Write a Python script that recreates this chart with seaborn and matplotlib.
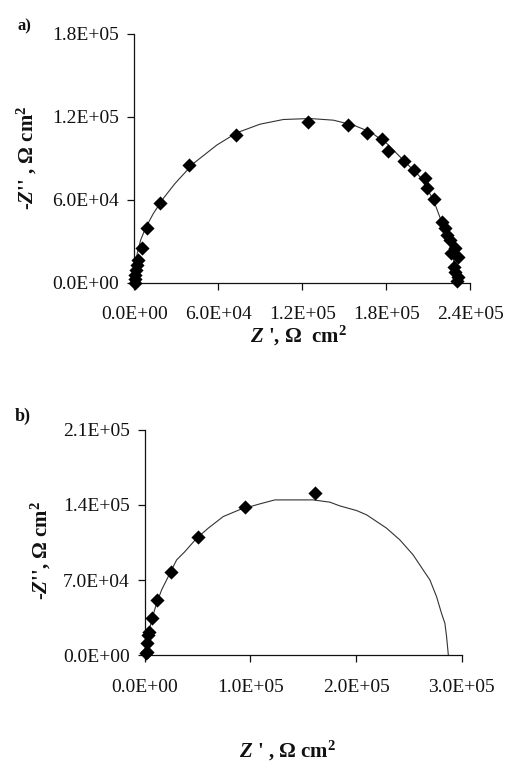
import matplotlib
matplotlib.use("Agg")
import matplotlib.pyplot as plt
import seaborn as sns
import pandas as pd

# ---------------------------------------------------------------------------
# DATA
# ---------------------------------------------------------------------------
# panel a) measured points
a_zre = [500, 500, 700, 1000, 1700, 2900, 5300, 8900, 18400, 39100, 72900,
         124400, 153000, 166100, 177300, 181100, 193000, 200200, 207800,
         209500, 214300, 219700, 221700, 223300, 225700, 229300, 226400,
         231600, 228100, 229300, 231600, 230900]
a_zim = [0, 2500, 5600, 9200, 12800, 16400, 24800, 39300, 57300, 84900, 106600,
         116200, 113800, 108500, 103500, 95000, 87800, 81300, 75800,
         68600, 60200, 44000, 39200, 34400, 30800, 24800, 21200,
         18800, 11500, 7900, 4300, 1000]
# panel a) fitted curve
a_fit_zre = [0, 700, 2100, 4500, 8100, 13600, 20700, 29100, 42200, 58900,
             73200, 89800, 106500, 125600, 142300, 156600, 168500, 180400,
             192300, 204200, 213800, 220900, 225700, 229300, 230900]
a_fit_zim = [0, 11500, 21200, 30800, 39700, 50000, 60900, 71700, 86100, 99400,
             108300, 114500, 117900, 118600, 117400, 113800, 109000, 100600,
             88500, 76500, 59700, 40400, 26000, 11500, 0]

# panel b) measured points
b_zre = [1000, 1600, 1600, 3100, 4000, 6300, 11100, 24600, 50500, 94700, 161000]
b_zim = [2000, 3400, 11200, 18900, 22000, 34500, 51500, 77900, 110000, 138500, 151000]
# panel b) fitted curve
b_fit_zre = [0, 1600, 3100, 6300, 11100, 15800, 22100, 30000, 37900, 49000,
             60000, 74200, 90000, 108900, 123100, 159400, 175200, 184700,
             200500, 210000, 228900, 241500, 254100, 263600, 270000, 276300,
             281000, 284200, 285800, 287300, 287500]
b_fit_zim = [0, 1900, 17300, 32900, 48500, 60900, 73300, 88800, 96600, 109000,
             118400, 129200, 135700, 141000, 144700, 144700, 142600, 139100,
             134800, 130800, 118400, 107500, 93500, 79500, 70200, 54600,
             39100, 29800, 17300, 1900, 0]

a_xticks = [0, 60000, 120000, 180000, 240000]
a_xlabels = ["0.0E+00", "6.0E+04", "1.2E+05", "1.8E+05", "2.4E+05"]
a_yticks = [0, 60000, 120000, 180000]
a_ylabels = ["0.0E+00", "6.0E+04", "1.2E+05", "1.8E+05"]
b_xticks = [0, 100000, 200000, 300000]
b_xlabels = ["0.0E+00", "1.0E+05", "2.0E+05", "3.0E+05"]
b_yticks = [0, 70000, 140000, 210000]
b_ylabels = ["0.0E+00", "7.0E+04", "1.4E+05", "2.1E+05"]

# ---------------------------------------------------------------------------
# STYLE
# ---------------------------------------------------------------------------
sns.set_style("ticks")
SERIF = "Liberation Serif"
plt.rcParams["font.family"] = [SERIF, "DejaVu Serif"]
plt.rcParams["mathtext.fontset"] = "custom"
plt.rcParams["mathtext.rm"] = "Liberation Serif:bold"
plt.rcParams["mathtext.bf"] = "Liberation Serif:bold"
plt.rcParams["mathtext.it"] = "Liberation Serif:bold:italic"

INK = "#111111"
CURVE = "#333333"


def draw_panel(ax, zre, zim, fit_zre, fit_zim, xticks, xlabels, yticks, ylabels):
    pts = pd.DataFrame({"zre": zre, "zim": zim})
    fit = pd.DataFrame({"zre": fit_zre, "zim": fit_zim})
    sns.lineplot(data=fit, x="zre", y="zim", sort=False, estimator=None,
                 color=CURVE, linewidth=0.8, ax=ax, clip_on=False)
    sns.scatterplot(data=pts, x="zre", y="zim", marker="D", s=52,
                    color="black", edgecolor="black", linewidth=0,
                    ax=ax, clip_on=False, zorder=3)
    ax.set_xlim(xticks[0], xticks[-1])
    ax.set_ylim(yticks[0], yticks[-1])
    ax.set_xticks(xticks)
    ax.set_xticklabels(xlabels)
    ax.set_yticks(yticks)
    ax.set_yticklabels(ylabels)
    ax.set_xlabel("")
    ax.set_ylabel("")
    sns.despine(ax=ax)
    for side in ("left", "bottom"):
        ax.spines[side].set_linewidth(0.9)
        ax.spines[side].set_color(INK)
    ax.tick_params(axis="both", direction="out", length=5, width=0.9,
                   color=INK, labelcolor=INK, labelsize=14)
    ax.tick_params(axis="x", pad=12)
    ax.tick_params(axis="y", pad=6)


fig = plt.figure(figsize=(5.05, 7.62), dpi=100)
ax_a = fig.add_axes([0.266, 0.629, 0.665, 0.327])
ax_b = fig.add_axes([0.287, 0.140, 0.627, 0.296])

draw_panel(ax_a, a_zre, a_zim, a_fit_zre, a_fit_zim,
           a_xticks, a_xlabels, a_yticks, a_ylabels)
draw_panel(ax_b, b_zre, b_zim, b_fit_zre, b_fit_zim,
           b_xticks, b_xlabels, b_yticks, b_ylabels)

# panel letters
fig.text(17 / 505, 1 - 26 / 762, "a)", fontsize=12, fontweight="bold",
         ha="left", va="center", color=INK)
fig.text(15 / 505, 1 - 416 / 762, "b)", fontsize=13, fontweight="bold",
         ha="left", va="center", color=INK)

# axis titles
ylab_a = r"-$\mathit{Z}$'' , Ω cm$^{2}$"
ylab_b = r"-$\mathit{Z}$'', Ω cm$^{2}$"
xlab_a = r"$\mathit{Z}$ ', Ω  cm$^{2}$"
xlab_b = r"$\mathit{Z}$ ' , Ω cm$^{2}$"

fig.text(27 / 505, 1 - 158 / 762, ylab_a, rotation=90, fontsize=15,
         fontweight="bold", ha="center", va="center", color=INK)
fig.text(41 / 505, 1 - 550 / 762, ylab_b, rotation=90, fontsize=15,
         fontweight="bold", ha="center", va="center", color=INK)
fig.text(298 / 505, 1 - 342 / 762, xlab_a, fontsize=15,
         fontweight="bold", ha="center", va="baseline", color=INK)
fig.text(287 / 505, 1 - 757 / 762, xlab_b, fontsize=15,
         fontweight="bold", ha="center", va="baseline", color=INK)

fig.savefig("out.png", dpi=100, facecolor="white")
